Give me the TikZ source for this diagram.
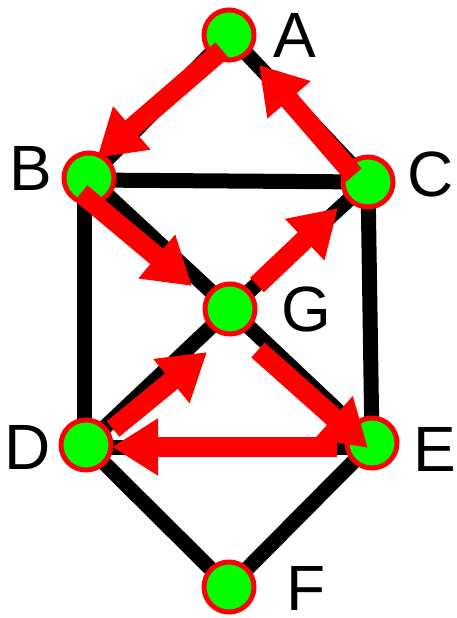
\documentclass[tikz,border=0pt]{standalone}
\usepackage{fontspec}
\setmainfont{Liberation Sans}
\usetikzlibrary{arrows.meta,calc,backgrounds}
\definecolor{vgreen}{RGB}{0,255,0}
\definecolor{vred}{RGB}{255,0,0}
\tikzset{
  vert/.style={circle,draw=vred,fill=vgreen,line width=5pt,minimum size=50pt,inner sep=0pt},
  lab/.style={font=\fontsize{64}{64}\selectfont,inner sep=0pt},
  edge/.style={line width=15pt,black},
  redarrow/.style={line width=20pt,vred,-{Triangle[length=46pt,width=54pt]}}
}
\begin{document}
\begin{tikzpicture}[x=1pt,y=-1pt]
\useasboundingbox (0,0) rectangle (456,618);
\node[vert] (A) at (229,35) {};
\node[vert] (B) at (89,178) {};
\node[vert] (C) at (368,182) {};
\node[vert] (G) at (230,309) {};
\node[vert] (D) at (86,445) {};
\node[vert] (E) at (372,443) {};
\node[vert] (F) at (229,587) {};
\node[lab] (lA) at (295,35) {A};
\node[lab] (lB) at (31,168) {B};
\node[lab] (lC) at (431,174) {C};
\node[lab] (lG) at (306,309) {G};
\node[lab] (lD) at (28,447) {D};
\node[lab] (lE) at (435,449) {E};
\node[lab] (lF) at (306,588) {F};
\begin{scope}[on background layer]
\draw[edge] (A.center) -- (C.center);
\draw[edge] (A.center) -- (B.center);
\draw[edge] ($(B)+(0,2)$) -- (C.center);
\draw[edge] ($(B)+(-5,0)$) -- ($(D)+(-2,0)$);
\draw[edge] (B.center) -- (G.center);
\draw[edge] (C.center) -- (G.center);
\draw[edge] (C.center) -- (E.center);
\draw[edge] (D.center) -- (G.center);
\draw[edge] (G.center) -- (E.center);
\draw[edge] ($(D)+(0,2)$) -- ($(E)+(0,4)$);
\draw[edge] (D.center) -- (F.center);
\draw[edge] (E.center) -- (F.center);
\end{scope}
\draw[redarrow] ($(A)+(-7,15)$) -- ($(B)+(8,-20)$);
\draw[redarrow] ($(B)+(-8,15)$) -- ($(G)+(-38,-23)$);
\draw[redarrow] ($(G)+(27,-24)$) -- ($(C)+(-30,26)$);
\draw[redarrow] ($(C)+(-14,-7)$) -- ($(A)+(30,30)$);
\draw[redarrow] ($(D)+(27,-16)$) -- ($(G)+(-23,43)$);
\draw[redarrow] ($(G)+(28,41)$) -- ($(E)+(-4,5)$);
\draw[redarrow] ($(E)+(-35,4)$) -- ($(D)+(26,2)$);
\end{tikzpicture}
\end{document}
